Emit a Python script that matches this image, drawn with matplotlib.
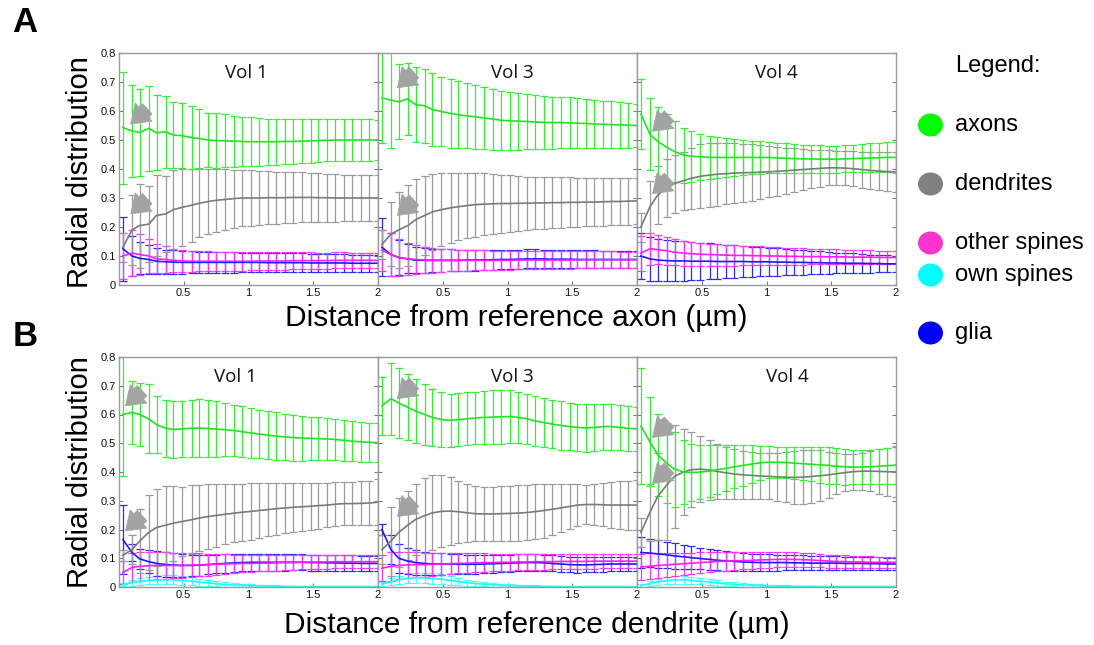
import matplotlib
matplotlib.use('Agg')
import matplotlib.pyplot as plt
from matplotlib.patches import Ellipse

plt.rcParams['font.family'] = ['Liberation Sans', 'DejaVu Sans']

# distance from the reference object (um)
DIST = [0.03, 0.10, 0.16, 0.23, 0.29, 0.36, 0.42, 0.49, 0.56, 0.62, 0.69, 0.75, 0.82, 0.89, 0.95,
        1.02, 1.08, 1.15, 1.21, 1.28, 1.34, 1.41, 1.48, 1.54, 1.61, 1.67, 1.74, 1.80, 1.87, 1.93, 2.00]

# ---- A: reference axon ----
A1_AXON = [0.543, 0.531, 0.526, 0.540, 0.525, 0.528, 0.517, 0.515, 0.508, 0.505, 0.500, 0.498, 0.497, 0.496, 0.495, 0.494, 0.494, 0.494, 0.494, 0.495, 0.495, 0.496, 0.497, 0.498, 0.499, 0.500, 0.500, 0.500, 0.500, 0.500, 0.500]
A1_AXON_E = [0.193, 0.157, 0.150, 0.147, 0.130, 0.124, 0.115, 0.111, 0.109, 0.101, 0.094, 0.094, 0.091, 0.088, 0.085, 0.084, 0.082, 0.080, 0.079, 0.078, 0.077, 0.076, 0.075, 0.074, 0.073, 0.073, 0.072, 0.072, 0.071, 0.071, 0.070]
A1_DEND = [0.130, 0.190, 0.205, 0.210, 0.240, 0.245, 0.260, 0.268, 0.275, 0.282, 0.288, 0.292, 0.295, 0.298, 0.300, 0.300, 0.300, 0.301, 0.301, 0.301, 0.302, 0.302, 0.302, 0.301, 0.301, 0.300, 0.300, 0.300, 0.300, 0.300, 0.300]
A1_DEND_E = [0.050, 0.120, 0.145, 0.130, 0.140, 0.130, 0.135, 0.132, 0.125, 0.118, 0.112, 0.108, 0.105, 0.100, 0.097, 0.095, 0.093, 0.091, 0.089, 0.088, 0.087, 0.086, 0.085, 0.084, 0.083, 0.082, 0.081, 0.080, 0.079, 0.079, 0.078]
A1_OTHER = [0.100, 0.110, 0.105, 0.100, 0.090, 0.088, 0.085, 0.083, 0.082, 0.082, 0.082, 0.082, 0.082, 0.082, 0.082, 0.082, 0.083, 0.083, 0.083, 0.083, 0.084, 0.084, 0.084, 0.084, 0.084, 0.085, 0.085, 0.085, 0.085, 0.085, 0.085]
A1_OTHER_E = [0.080, 0.078, 0.070, 0.060, 0.050, 0.045, 0.040, 0.038, 0.036, 0.035, 0.034, 0.033, 0.033, 0.032, 0.032, 0.031, 0.031, 0.030, 0.030, 0.030, 0.029, 0.029, 0.029, 0.028, 0.028, 0.028, 0.028, 0.027, 0.027, 0.027, 0.027]
A1_GLIA = [0.125, 0.100, 0.092, 0.088, 0.082, 0.080, 0.079, 0.078, 0.078, 0.078, 0.078, 0.078, 0.078, 0.078, 0.078, 0.078, 0.078, 0.077, 0.077, 0.077, 0.077, 0.077, 0.076, 0.076, 0.076, 0.076, 0.076, 0.075, 0.075, 0.075, 0.075]
A1_GLIA_E = [0.110, 0.070, 0.055, 0.050, 0.045, 0.042, 0.040, 0.039, 0.038, 0.037, 0.036, 0.036, 0.035, 0.035, 0.034, 0.034, 0.033, 0.033, 0.033, 0.032, 0.032, 0.032, 0.031, 0.031, 0.031, 0.031, 0.030, 0.030, 0.030, 0.030, 0.030]

A3_AXON = [0.645, 0.637, 0.632, 0.642, 0.622, 0.618, 0.605, 0.598, 0.592, 0.587, 0.583, 0.580, 0.576, 0.572, 0.568, 0.566, 0.565, 0.564, 0.562, 0.561, 0.560, 0.560, 0.559, 0.558, 0.557, 0.555, 0.554, 0.553, 0.552, 0.551, 0.550]
A3_AXON_E = [0.155, 0.165, 0.130, 0.125, 0.130, 0.128, 0.125, 0.120, 0.118, 0.115, 0.112, 0.110, 0.107, 0.105, 0.102, 0.100, 0.098, 0.096, 0.094, 0.092, 0.090, 0.089, 0.088, 0.086, 0.085, 0.083, 0.082, 0.080, 0.078, 0.077, 0.075]
A3_DEND = [0.140, 0.175, 0.190, 0.205, 0.225, 0.240, 0.252, 0.260, 0.266, 0.270, 0.274, 0.277, 0.279, 0.280, 0.281, 0.281, 0.282, 0.282, 0.283, 0.283, 0.284, 0.284, 0.285, 0.285, 0.286, 0.286, 0.287, 0.288, 0.288, 0.289, 0.290]
A3_DEND_E = [0.050, 0.110, 0.130, 0.140, 0.140, 0.135, 0.130, 0.125, 0.120, 0.115, 0.112, 0.110, 0.107, 0.104, 0.100, 0.097, 0.095, 0.092, 0.090, 0.089, 0.088, 0.087, 0.086, 0.085, 0.084, 0.083, 0.082, 0.082, 0.081, 0.081, 0.080]
A3_OTHER = [0.120, 0.105, 0.095, 0.090, 0.088, 0.086, 0.085, 0.085, 0.085, 0.085, 0.085, 0.085, 0.085, 0.085, 0.085, 0.085, 0.086, 0.086, 0.086, 0.086, 0.086, 0.086, 0.086, 0.087, 0.087, 0.087, 0.087, 0.087, 0.087, 0.087, 0.087]
A3_OTHER_E = [0.070, 0.075, 0.065, 0.055, 0.050, 0.045, 0.042, 0.040, 0.038, 0.036, 0.035, 0.034, 0.034, 0.033, 0.033, 0.032, 0.032, 0.031, 0.031, 0.031, 0.030, 0.030, 0.030, 0.030, 0.029, 0.029, 0.029, 0.029, 0.028, 0.028, 0.028]
A3_GLIA = [0.130, 0.105, 0.095, 0.090, 0.086, 0.085, 0.085, 0.085, 0.085, 0.085, 0.086, 0.086, 0.087, 0.087, 0.088, 0.088, 0.089, 0.090, 0.090, 0.090, 0.089, 0.089, 0.089, 0.088, 0.088, 0.088, 0.088, 0.088, 0.088, 0.088, 0.088]
A3_GLIA_E = [0.100, 0.075, 0.060, 0.050, 0.045, 0.042, 0.040, 0.039, 0.038, 0.037, 0.036, 0.036, 0.035, 0.035, 0.034, 0.034, 0.033, 0.033, 0.033, 0.032, 0.032, 0.032, 0.031, 0.031, 0.031, 0.031, 0.030, 0.030, 0.030, 0.030, 0.030]

A4_AXON = [0.590, 0.520, 0.495, 0.475, 0.460, 0.448, 0.444, 0.442, 0.440, 0.440, 0.440, 0.440, 0.440, 0.440, 0.440, 0.440, 0.438, 0.437, 0.436, 0.435, 0.435, 0.434, 0.434, 0.434, 0.435, 0.436, 0.437, 0.438, 0.439, 0.440, 0.440]
A4_AXON_E = [0.120, 0.125, 0.120, 0.115, 0.105, 0.095, 0.088, 0.080, 0.075, 0.070, 0.066, 0.063, 0.060, 0.058, 0.056, 0.054, 0.052, 0.051, 0.050, 0.049, 0.048, 0.048, 0.047, 0.047, 0.047, 0.048, 0.049, 0.050, 0.051, 0.052, 0.053]
A4_DEND = [0.200, 0.270, 0.310, 0.335, 0.350, 0.360, 0.368, 0.375, 0.379, 0.382, 0.384, 0.386, 0.387, 0.388, 0.389, 0.390, 0.392, 0.394, 0.396, 0.398, 0.400, 0.402, 0.404, 0.404, 0.403, 0.401, 0.398, 0.395, 0.393, 0.391, 0.390]
A4_DEND_E = [0.050, 0.090, 0.100, 0.100, 0.100, 0.100, 0.105, 0.110, 0.110, 0.108, 0.105, 0.102, 0.100, 0.097, 0.093, 0.088, 0.084, 0.080, 0.075, 0.070, 0.066, 0.063, 0.060, 0.058, 0.058, 0.060, 0.062, 0.064, 0.066, 0.068, 0.070]
A4_OTHER = [0.110, 0.125, 0.122, 0.118, 0.113, 0.110, 0.108, 0.106, 0.105, 0.104, 0.103, 0.102, 0.102, 0.101, 0.101, 0.100, 0.100, 0.099, 0.099, 0.098, 0.098, 0.098, 0.097, 0.097, 0.097, 0.096, 0.096, 0.096, 0.095, 0.095, 0.095]
A4_OTHER_E = [0.060, 0.055, 0.050, 0.048, 0.045, 0.043, 0.041, 0.040, 0.038, 0.037, 0.036, 0.035, 0.034, 0.033, 0.032, 0.031, 0.030, 0.030, 0.029, 0.028, 0.027, 0.027, 0.026, 0.026, 0.025, 0.025, 0.024, 0.024, 0.023, 0.023, 0.022]
A4_GLIA = [0.100, 0.090, 0.086, 0.084, 0.083, 0.083, 0.082, 0.082, 0.082, 0.081, 0.081, 0.081, 0.081, 0.080, 0.080, 0.080, 0.079, 0.079, 0.078, 0.078, 0.077, 0.077, 0.076, 0.076, 0.075, 0.075, 0.075, 0.074, 0.074, 0.073, 0.073]
A4_GLIA_E = [0.080, 0.075, 0.073, 0.071, 0.070, 0.068, 0.066, 0.064, 0.062, 0.060, 0.058, 0.056, 0.054, 0.052, 0.050, 0.048, 0.047, 0.045, 0.044, 0.042, 0.040, 0.039, 0.037, 0.036, 0.035, 0.034, 0.032, 0.031, 0.030, 0.029, 0.028]

# ---- B: reference dendrite ----
B1_AXON = [0.600, 0.607, 0.600, 0.585, 0.565, 0.552, 0.548, 0.550, 0.552, 0.553, 0.551, 0.549, 0.547, 0.544, 0.540, 0.536, 0.532, 0.528, 0.525, 0.522, 0.520, 0.518, 0.517, 0.516, 0.515, 0.513, 0.510, 0.507, 0.505, 0.503, 0.502]
B1_AXON_E = [0.215, 0.110, 0.110, 0.120, 0.100, 0.100, 0.100, 0.098, 0.100, 0.100, 0.100, 0.097, 0.093, 0.090, 0.088, 0.087, 0.085, 0.083, 0.082, 0.081, 0.080, 0.078, 0.076, 0.075, 0.074, 0.072, 0.071, 0.070, 0.069, 0.068, 0.067]
B1_DEND = [0.110, 0.130, 0.160, 0.190, 0.207, 0.215, 0.222, 0.228, 0.234, 0.240, 0.245, 0.249, 0.253, 0.257, 0.260, 0.263, 0.266, 0.269, 0.272, 0.275, 0.277, 0.279, 0.281, 0.283, 0.285, 0.288, 0.290, 0.290, 0.291, 0.292, 0.295]
B1_DEND_E = [0.020, 0.050, 0.110, 0.130, 0.135, 0.135, 0.130, 0.120, 0.120, 0.115, 0.112, 0.110, 0.105, 0.102, 0.100, 0.098, 0.095, 0.093, 0.090, 0.088, 0.086, 0.084, 0.082, 0.080, 0.078, 0.077, 0.076, 0.076, 0.077, 0.078, 0.079]
B1_OTHER = [0.050, 0.068, 0.072, 0.074, 0.075, 0.075, 0.075, 0.075, 0.076, 0.077, 0.078, 0.079, 0.080, 0.081, 0.082, 0.082, 0.083, 0.083, 0.084, 0.085, 0.085, 0.086, 0.087, 0.087, 0.087, 0.088, 0.088, 0.088, 0.088, 0.088, 0.088]
B1_OTHER_E = [0.040, 0.050, 0.050, 0.048, 0.047, 0.046, 0.045, 0.044, 0.042, 0.040, 0.038, 0.036, 0.034, 0.032, 0.031, 0.030, 0.029, 0.028, 0.027, 0.026, 0.026, 0.025, 0.025, 0.024, 0.024, 0.023, 0.023, 0.023, 0.022, 0.022, 0.022]
B1_OWN = [0.008, 0.015, 0.020, 0.022, 0.024, 0.025, 0.025, 0.023, 0.020, 0.017, 0.014, 0.011, 0.009, 0.007, 0.006, 0.005, 0.004, 0.003, 0.003, 0.002, 0.002, 0.001, 0.001, 0.001, 0.001, 0.001, 0.001, 0.001, 0.001, 0.001, 0.001]
B1_OWN_E = [0.005, 0.010, 0.012, 0.013, 0.015, 0.016, 0.016, 0.015, 0.014, 0.012, 0.010, 0.009, 0.008, 0.007, 0.006, 0.005, 0.004, 0.004, 0.003, 0.003, 0.003, 0.002, 0.002, 0.002, 0.002, 0.002, 0.002, 0.002, 0.002, 0.002, 0.002]
B1_GLIA = [0.165, 0.120, 0.098, 0.088, 0.082, 0.078, 0.076, 0.075, 0.075, 0.076, 0.078, 0.080, 0.082, 0.084, 0.085, 0.086, 0.086, 0.086, 0.086, 0.086, 0.086, 0.086, 0.085, 0.085, 0.084, 0.084, 0.083, 0.083, 0.082, 0.082, 0.082]
B1_GLIA_E = [0.120, 0.030, 0.035, 0.040, 0.042, 0.043, 0.042, 0.040, 0.038, 0.036, 0.034, 0.033, 0.032, 0.031, 0.030, 0.030, 0.030, 0.029, 0.029, 0.029, 0.028, 0.028, 0.028, 0.028, 0.028, 0.028, 0.028, 0.027, 0.027, 0.027, 0.027]

B3_AXON = [0.630, 0.655, 0.640, 0.625, 0.612, 0.600, 0.590, 0.582, 0.580, 0.582, 0.585, 0.588, 0.590, 0.591, 0.592, 0.593, 0.590, 0.585, 0.578, 0.572, 0.567, 0.562, 0.558, 0.555, 0.553, 0.555, 0.558, 0.558, 0.555, 0.552, 0.550]
B3_AXON_E = [0.100, 0.125, 0.120, 0.115, 0.110, 0.105, 0.100, 0.095, 0.093, 0.092, 0.092, 0.092, 0.093, 0.094, 0.094, 0.093, 0.090, 0.088, 0.087, 0.086, 0.085, 0.084, 0.083, 0.082, 0.082, 0.081, 0.080, 0.080, 0.079, 0.078, 0.077]
B3_DEND = [0.130, 0.160, 0.190, 0.215, 0.235, 0.248, 0.258, 0.263, 0.264, 0.262, 0.258, 0.255, 0.254, 0.254, 0.255, 0.256, 0.257, 0.259, 0.262, 0.266, 0.270, 0.275, 0.280, 0.285, 0.287, 0.287, 0.286, 0.285, 0.285, 0.285, 0.285]
B3_DEND_E = [0.050, 0.120, 0.120, 0.120, 0.125, 0.130, 0.130, 0.125, 0.118, 0.108, 0.100, 0.095, 0.094, 0.094, 0.095, 0.096, 0.097, 0.097, 0.096, 0.094, 0.090, 0.085, 0.078, 0.072, 0.068, 0.070, 0.075, 0.080, 0.083, 0.085, 0.087]
B3_OTHER = [0.065, 0.072, 0.075, 0.077, 0.078, 0.078, 0.079, 0.080, 0.081, 0.082, 0.083, 0.084, 0.085, 0.085, 0.086, 0.086, 0.087, 0.087, 0.088, 0.088, 0.088, 0.089, 0.089, 0.089, 0.089, 0.090, 0.090, 0.090, 0.090, 0.090, 0.090]
B3_OTHER_E = [0.045, 0.050, 0.048, 0.046, 0.044, 0.042, 0.040, 0.038, 0.036, 0.035, 0.034, 0.033, 0.032, 0.031, 0.030, 0.030, 0.029, 0.029, 0.028, 0.028, 0.027, 0.027, 0.027, 0.026, 0.026, 0.026, 0.025, 0.025, 0.025, 0.025, 0.025]
B3_OWN = [0.010, 0.018, 0.025, 0.030, 0.032, 0.032, 0.030, 0.027, 0.023, 0.019, 0.015, 0.012, 0.010, 0.008, 0.006, 0.005, 0.004, 0.003, 0.003, 0.002, 0.002, 0.001, 0.001, 0.001, 0.001, 0.001, 0.001, 0.001, 0.001, 0.001, 0.001]
B3_OWN_E = [0.006, 0.012, 0.015, 0.017, 0.018, 0.018, 0.018, 0.017, 0.015, 0.013, 0.011, 0.010, 0.008, 0.007, 0.006, 0.005, 0.004, 0.004, 0.003, 0.003, 0.003, 0.002, 0.002, 0.002, 0.002, 0.002, 0.002, 0.002, 0.002, 0.002, 0.002]
B3_GLIA = [0.200, 0.130, 0.100, 0.090, 0.085, 0.082, 0.080, 0.080, 0.080, 0.079, 0.079, 0.079, 0.080, 0.081, 0.082, 0.083, 0.084, 0.085, 0.085, 0.084, 0.082, 0.080, 0.078, 0.077, 0.077, 0.078, 0.079, 0.080, 0.080, 0.080, 0.080]
B3_GLIA_E = [0.020, 0.050, 0.050, 0.045, 0.042, 0.040, 0.038, 0.037, 0.036, 0.035, 0.034, 0.033, 0.032, 0.031, 0.031, 0.030, 0.030, 0.029, 0.029, 0.028, 0.028, 0.027, 0.027, 0.027, 0.026, 0.026, 0.026, 0.025, 0.025, 0.025, 0.025]

B4_AXON = [0.560, 0.505, 0.460, 0.430, 0.410, 0.400, 0.398, 0.400, 0.403, 0.408, 0.413, 0.418, 0.423, 0.428, 0.432, 0.434, 0.434, 0.433, 0.431, 0.429, 0.427, 0.425, 0.423, 0.420, 0.418, 0.417, 0.417, 0.418, 0.420, 0.422, 0.424]
B4_AXON_E = [0.200, 0.155, 0.142, 0.139, 0.130, 0.110, 0.100, 0.095, 0.090, 0.085, 0.080, 0.075, 0.070, 0.065, 0.060, 0.056, 0.054, 0.054, 0.056, 0.058, 0.060, 0.062, 0.063, 0.063, 0.062, 0.060, 0.058, 0.058, 0.060, 0.062, 0.065]
B4_DEND = [0.190, 0.260, 0.315, 0.355, 0.385, 0.400, 0.408, 0.410, 0.407, 0.402, 0.397, 0.393, 0.390, 0.388, 0.386, 0.385, 0.383, 0.382, 0.381, 0.382, 0.384, 0.387, 0.390, 0.394, 0.398, 0.401, 0.403, 0.403, 0.402, 0.401, 0.400]
B4_DEND_E = [0.050, 0.100, 0.150, 0.190, 0.180, 0.150, 0.130, 0.115, 0.105, 0.097, 0.090, 0.086, 0.083, 0.081, 0.080, 0.080, 0.083, 0.087, 0.092, 0.095, 0.093, 0.088, 0.080, 0.072, 0.064, 0.062, 0.064, 0.070, 0.077, 0.083, 0.088]
B4_OTHER = [0.070, 0.072, 0.075, 0.077, 0.079, 0.081, 0.083, 0.085, 0.087, 0.089, 0.090, 0.091, 0.092, 0.093, 0.094, 0.095, 0.096, 0.096, 0.096, 0.095, 0.094, 0.092, 0.090, 0.089, 0.088, 0.087, 0.087, 0.086, 0.086, 0.086, 0.086]
B4_OTHER_E = [0.045, 0.045, 0.043, 0.041, 0.040, 0.038, 0.037, 0.036, 0.035, 0.034, 0.033, 0.032, 0.031, 0.030, 0.029, 0.028, 0.027, 0.026, 0.025, 0.025, 0.024, 0.024, 0.023, 0.023, 0.022, 0.022, 0.021, 0.021, 0.020, 0.020, 0.020]
B4_OWN = [0.005, 0.012, 0.018, 0.022, 0.025, 0.025, 0.023, 0.020, 0.017, 0.014, 0.011, 0.009, 0.007, 0.006, 0.005, 0.004, 0.003, 0.003, 0.002, 0.002, 0.002, 0.001, 0.001, 0.001, 0.001, 0.001, 0.001, 0.001, 0.001, 0.001, 0.001]
B4_OWN_E = [0.004, 0.008, 0.010, 0.012, 0.013, 0.013, 0.012, 0.011, 0.010, 0.009, 0.008, 0.007, 0.006, 0.005, 0.004, 0.004, 0.003, 0.003, 0.003, 0.002, 0.002, 0.002, 0.002, 0.002, 0.002, 0.002, 0.002, 0.002, 0.002, 0.002, 0.002]
B4_GLIA = [0.120, 0.118, 0.115, 0.112, 0.108, 0.105, 0.102, 0.099, 0.096, 0.093, 0.091, 0.089, 0.087, 0.086, 0.085, 0.085, 0.085, 0.085, 0.084, 0.084, 0.083, 0.083, 0.083, 0.083, 0.082, 0.082, 0.082, 0.081, 0.081, 0.080, 0.080]
B4_GLIA_E = [0.055, 0.050, 0.048, 0.046, 0.044, 0.042, 0.040, 0.038, 0.036, 0.035, 0.034, 0.032, 0.031, 0.030, 0.030, 0.029, 0.028, 0.027, 0.026, 0.026, 0.025, 0.025, 0.024, 0.024, 0.023, 0.023, 0.023, 0.022, 0.022, 0.022, 0.022]

VOL_NAMES = ['Vol 1', 'Vol 3', 'Vol 4']
LEGEND_NAMES = ['axons', 'dendrites', 'other spines', 'own spines', 'glia']
LEGEND_COLORS = ['#00ff00', '#808080', '#ff33cc', '#00ffff', '#0000ff']
# gray arrow tips (x, y) per panel: first points at axons, second at dendrites
ARROWS_A = [[(0.09, 0.555), (0.09, 0.245)], [(0.15, 0.68), (0.15, 0.24)], [(0.12, 0.53), (0.12, 0.315)]]
ARROWS_B = [[(0.05, 0.63), (0.05, 0.195)], [(0.15, 0.655), (0.15, 0.245)], [(0.12, 0.52), (0.12, 0.36)]]

# line colours (mean line, error bar)
C_AXON = ('#1ee61e', '#33f033')
C_DEND = ('#7a7a7a', '#9a9a9a')
C_OTHER = ('#ff1aff', '#ff33ff')
C_OWN = ('#1affff', '#44ffff')
C_GLIA = ('#1a1aff', '#2a2aff')

panels_A = [
    [(A1_GLIA, A1_GLIA_E, C_GLIA), (A1_OTHER, A1_OTHER_E, C_OTHER), (A1_DEND, A1_DEND_E, C_DEND), (A1_AXON, A1_AXON_E, C_AXON)],
    [(A3_GLIA, A3_GLIA_E, C_GLIA), (A3_OTHER, A3_OTHER_E, C_OTHER), (A3_DEND, A3_DEND_E, C_DEND), (A3_AXON, A3_AXON_E, C_AXON)],
    [(A4_GLIA, A4_GLIA_E, C_GLIA), (A4_OTHER, A4_OTHER_E, C_OTHER), (A4_DEND, A4_DEND_E, C_DEND), (A4_AXON, A4_AXON_E, C_AXON)],
]
panels_B = [
    [(B1_OWN, B1_OWN_E, C_OWN), (B1_GLIA, B1_GLIA_E, C_GLIA), (B1_OTHER, B1_OTHER_E, C_OTHER), (B1_DEND, B1_DEND_E, C_DEND), (B1_AXON, B1_AXON_E, C_AXON)],
    [(B3_OWN, B3_OWN_E, C_OWN), (B3_GLIA, B3_GLIA_E, C_GLIA), (B3_OTHER, B3_OTHER_E, C_OTHER), (B3_DEND, B3_DEND_E, C_DEND), (B3_AXON, B3_AXON_E, C_AXON)],
    [(B4_OWN, B4_OWN_E, C_OWN), (B4_GLIA, B4_GLIA_E, C_GLIA), (B4_OTHER, B4_OTHER_E, C_OTHER), (B4_DEND, B4_DEND_E, C_DEND), (B4_AXON, B4_AXON_E, C_AXON)],
]

fig = plt.figure(figsize=(10.94, 6.45), dpi=100)

W = 1094.0
H = 645.0
pw = 259 / W


def draw_row(panels, arrows, bottom, height, title_pos):
    axs = []
    for i, series in enumerate(panels):
        ax = fig.add_axes([119 / W + i * pw, bottom, pw, height])
        for mean, err, col in series:
            ax.errorbar(DIST, mean, yerr=err, color=col[0], ecolor=col[1], lw=1.2,
                        elinewidth=0.9, capsize=2.6, capthick=0.9)
        # gray block arrows
        for tip in arrows[i]:
            ax.annotate('', xy=tip, xytext=(12, 11), textcoords='offset points',
                        arrowprops=dict(arrowstyle='simple,head_width=1.05,head_length=0.75,tail_width=0.6',
                                        fc='#a3a3a3', ec='#a3a3a3', lw=0.5, mutation_scale=17,
                                        shrinkA=0, shrinkB=0))
        ax.text(title_pos[i], 0.915, VOL_NAMES[i], transform=ax.transAxes, ha='center', va='center',
                fontsize=13.5, family=['Open Sans', 'DejaVu Sans'], color='#111111')
        ax.set_xlim(0, 2)
        ax.set_ylim(0, 0.8)
        ax.set_xticks([0.5, 1, 1.5, 2])
        ax.set_xticklabels(['0.5', '1', '1.5', '2'])
        ax.set_yticks([0, 0.1, 0.2, 0.3, 0.4, 0.5, 0.6, 0.7, 0.8])
        if i == 0:
            ax.set_yticklabels(['0', '0.1', '0.2', '0.3', '0.4', '0.5', '0.6', '0.7', '0.8'])
        else:
            ax.set_yticklabels([])
        ax.tick_params(direction='in', length=3, width=0.8, color='#777777', labelsize=8,
                       right=True, pad=2.5, labelcolor='#111111')
        for sp in ax.spines.values():
            sp.set_color('#9a9a9a')
            sp.set_linewidth(1.0)
        axs.append(ax)
    return axs


draw_row(panels_A, ARROWS_A, 1 - 285 / H, 232 / H, [0.49, 0.52, 0.54])
draw_row(panels_B, ARROWS_B, 1 - 587 / H, 230 / H, [0.45, 0.52, 0.58])

# panel letters and axis labels
fig.text(25 / W, 1 - 22 / H, 'A', fontsize=25, fontweight='bold', ha='center', va='center')
fig.text(25 / W, 1 - 337 / H, 'B', fontsize=25, fontweight='bold', ha='center', va='center')
fig.text(80 / W, 1 - 172 / H, 'Radial distribution', rotation=90, fontsize=21, ha='center', va='center')
fig.text(80 / W, 1 - 472 / H, 'Radial distribution', rotation=90, fontsize=21, ha='center', va='center')
fig.text(516 / W, 1 - 318 / H, 'Distance from reference axon (\u00b5m)', fontsize=21.5, ha='center', va='center')
fig.text(537 / W, 1 - 625 / H, 'Distance from reference dendrite (\u00b5m)', fontsize=21.5, ha='center', va='center')

# hand made legend on the right
fig.text(955 / W, 1 - 66 / H, 'Legend:', fontsize=17, ha='left', va='center')
legend_y = [125, 184, 243, 275, 333]
for name, col, yy in zip(LEGEND_NAMES, LEGEND_COLORS, legend_y):
    fig.add_artist(Ellipse((930.5 / W, 1 - yy / H), 25 / W, 23 / H, transform=fig.transFigure,
                           facecolor=col, edgecolor='none'))
    fig.text(955 / W, 1 - yy / H, name, fontsize=17, ha='left', va='center')

fig.savefig('out.png', dpi=100)
